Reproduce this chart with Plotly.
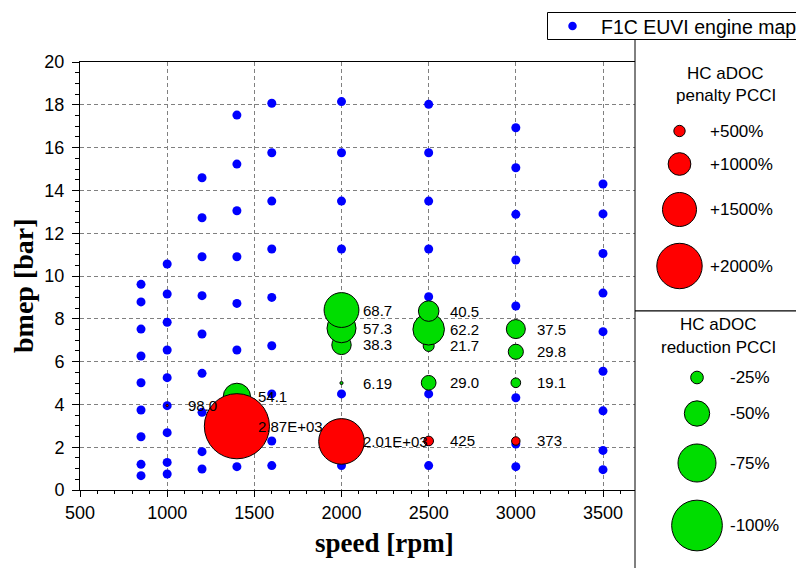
import plotly.graph_objects as go

# ---------------- data ----------------
# engine map operating points (speed [rpm], bmep [bar])
map_speed = ([850] * 9 + [1000] * 9 + [1200] * 9 + [1400] * 9 + [1600] * 9 +
             [2000] * 9 + [2500] * 9 + [3000] * 9 + [3500] * 9)
map_bmep = [
    9.61, 8.79, 7.52, 6.26, 5.01, 3.74, 2.49, 1.20, 0.67,      # 850
    10.56, 9.16, 7.84, 6.54, 5.25, 3.94, 2.68, 1.29, 0.75,     # 1000
    14.59, 12.72, 10.90, 9.08, 7.29, 5.45, 3.63, 1.79, 0.98,   # 1200
    17.52, 15.23, 13.05, 10.90, 8.72, 6.54, 4.35, 2.20, 1.09,  # 1400
    18.07, 15.76, 13.50, 11.26, 9.00, 6.74, 4.49, 2.29, 1.14,  # 1600
    18.15, 15.76, 13.50, 11.26, 9.00, 6.76, 4.49, 2.27, 1.14,  # 2000
    18.02, 15.76, 13.50, 11.26, 9.03, 6.74, 4.49, 2.27, 1.14,  # 2500
    16.93, 15.06, 12.88, 10.75, 8.60, 6.45, 4.31, 2.15, 1.09,  # 3000
    14.30, 12.90, 11.05, 9.20, 7.40, 5.55, 3.70, 1.85, 0.95,   # 3500
]

# HC aDOC penalty PCCI [%]
pen_speed = [1000, 1400, 2000, 2500, 3000]
pen_bmep = [3.95, 2.98, 2.27, 2.29, 2.29]
pen_value = [98.0, 2870, 2010, 425, 373]

# HC aDOC reduction PCCI [%]
red_speed = [1400, 2000, 2000, 2000, 2000, 2500, 2500, 2500, 2500, 3000, 3000, 3000]
red_bmep = [4.35, 8.41, 7.56, 6.78, 5.00, 8.36, 7.51, 6.73, 5.01, 7.52, 6.46, 5.01]
red_value = [54.1, 68.7, 57.3, 38.3, 6.19, 40.5, 62.2, 21.7, 29.0, 37.5, 29.8, 19.1]

x_ticks = [500, 1000, 1500, 2000, 2500, 3000, 3500]
y_ticks = [0, 2, 4, 6, 8, 10, 12, 14, 16, 18, 20]

pen_legend = [500, 1000, 1500, 2000]
red_legend = [25, 50, 75, 100]

# ---------------- styling ----------------
W, H = 796, 568
L, R, T, B = 80, 635, 62, 490
PEN_SCALE = 0.0227   # px diameter per %
RED_SCALE = 0.507
BLUE = "#0000ff"
GREEN = "#00dd00"
RED = "#ff0000"
SANS = "Liberation Sans, Arial, sans-serif"
SERIF = "Liberation Serif, Times New Roman, serif"


def fmt(v):
    if v >= 1000:
        return f"{v:.2E}"
    s = f"{v:#.3g}"
    return s.rstrip(".")


def px(x):
    return (x - L) / (R - L)


def py(y):
    return (B - y) / (B - T)


# sort reduction bubbles so lower ones are drawn first
order = sorted(range(len(red_bmep)), key=lambda i: red_bmep[i])
rs = [red_speed[i] for i in order]
rb = [red_bmep[i] for i in order]
rv = [red_value[i] for i in order]

fig = go.Figure()
fig.add_trace(go.Scatter(
    x=map_speed, y=map_bmep, mode="markers",
    marker=dict(color=BLUE, size=9, line=dict(width=0)),
    name="F1C EUVI engine map", showlegend=False, hoverinfo="x+y"))
fig.add_trace(go.Scatter(
    x=rs, y=rb, mode="markers",
    marker=dict(color=GREEN, size=[v * RED_SCALE for v in rv], sizemode="diameter",
                line=dict(color="black", width=1), opacity=1),
    showlegend=False))
fig.add_trace(go.Scatter(
    x=pen_speed, y=pen_bmep, mode="markers",
    marker=dict(color=RED, size=[v * PEN_SCALE for v in pen_value], sizemode="diameter",
                line=dict(color="black", width=1), opacity=1),
    showlegend=False))

annotations = []
for xs, ys, vs in ((rs, rb, rv), (pen_speed, pen_bmep, pen_value)):
    for x, y, v in zip(xs, ys, vs):
        annotations.append(dict(
            x=x, y=y, xref="x", yref="y", text=fmt(v), showarrow=False,
            xanchor="left", yanchor="middle", xshift=19,
            font=dict(family=SANS, size=15, color="black")))

# axis titles
annotations.append(dict(x=px(384), y=py(543), xref="paper", yref="paper",
                        text="<b>speed [rpm]</b>", showarrow=False,
                        xanchor="center", yanchor="middle",
                        font=dict(family=SERIF, size=27, color="black")))
annotations.append(dict(x=px(23), y=py(286), xref="paper", yref="paper",
                        text="<b>bmep [bar]</b>", showarrow=False, textangle=-90,
                        xanchor="center", yanchor="middle",
                        font=dict(family=SERIF, size=28, color="black")))

shapes = []
# legend boxes
shapes.append(dict(type="rect", xref="paper", yref="paper",
                   x0=px(547.5), x1=px(805), y0=py(12.5), y1=py(39.5),
                   line=dict(color="black", width=1), fillcolor="white"))
shapes.append(dict(type="rect", xref="paper", yref="paper",
                   x0=px(635), x1=px(805), y0=py(39.5), y1=py(311),
                   line=dict(color="black", width=1), fillcolor="white"))
shapes.append(dict(type="rect", xref="paper", yref="paper",
                   x0=px(635), x1=px(805), y0=py(311), y1=py(575),
                   line=dict(color="black", width=1), fillcolor="white"))


def circle(cx, cy, d, color, lw=1):
    r = d / 2.0
    return dict(type="circle", xref="paper", yref="paper",
                xsizemode="pixel", ysizemode="pixel",
                xanchor=px(cx), yanchor=py(cy),
                x0=-r, x1=r, y0=-r, y1=r,
                fillcolor=color, line=dict(color="black", width=lw))


def text(x, y, s, anchor="left", size=17):
    return dict(x=px(x), y=py(y), xref="paper", yref="paper", text=s,
                showarrow=False, xanchor=anchor, yanchor="middle",
                font=dict(family=SANS, size=size, color="black"))


# top legend
shapes.append(circle(572.5, 26, 8.5, BLUE, lw=0))
annotations.append(text(599, 26.5, "F1C EUVI engine map", size=19.5))

# penalty legend
annotations.append(text(725, 73.5, "HC aDOC", anchor="center"))
annotations.append(text(726, 96, "penalty PCCI", anchor="center"))
pen_y = [131, 164, 209.5, 266]
for v, yy in zip(pen_legend, pen_y):
    shapes.append(circle(679.5, yy, v * PEN_SCALE, RED))
    annotations.append(text(708, yy, f"+{v}%"))

# reduction legend
annotations.append(text(718, 325, "HC aDOC", anchor="center"))
annotations.append(text(718, 347, "reduction PCCI", anchor="center"))
red_y = [377.5, 413.5, 463, 525.5]
for v, yy in zip(red_legend, red_y):
    shapes.append(circle(697, yy, v * RED_SCALE, GREEN))
    annotations.append(text(728, yy, f"-{v}%"))

axis_common = dict(
    showline=True, linecolor="black", linewidth=1, mirror=True,
    ticks="outside", tickcolor="black", tickwidth=1,
    showgrid=True, gridcolor="#808080", gridwidth=1, griddash="4px,3px",
    zeroline=False,
    tickfont=dict(family=SANS, size=18, color="black"),
)

fig.update_layout(
    width=W, height=H,
    margin=dict(l=L, r=W - R, t=T, b=H - B, pad=0),
    paper_bgcolor="white", plot_bgcolor="white",
    showlegend=False,
    xaxis=dict(range=[500, 500 + (R - L) * 3000 / 523.0], tickvals=x_ticks,
               ticklen=6, minor=dict(dtick=100, tick0=500, ticks="outside", ticklen=3,
                                     tickcolor="black", showgrid=False),
               **axis_common),
    yaxis=dict(range=[0, 20], tickvals=y_ticks, ticklen=7, ticklabelstandoff=4,
               minor=dict(dtick=0.5, tick0=0, ticks="outside", ticklen=4,
                          tickcolor="black", showgrid=False),
               **axis_common),
    annotations=annotations,
    shapes=shapes,
)

fig.write_html(
    "out.html",
    config={"displayModeBar": False},
    post_script="document.body.style.margin='0';document.body.style.overflow='hidden';",
)
